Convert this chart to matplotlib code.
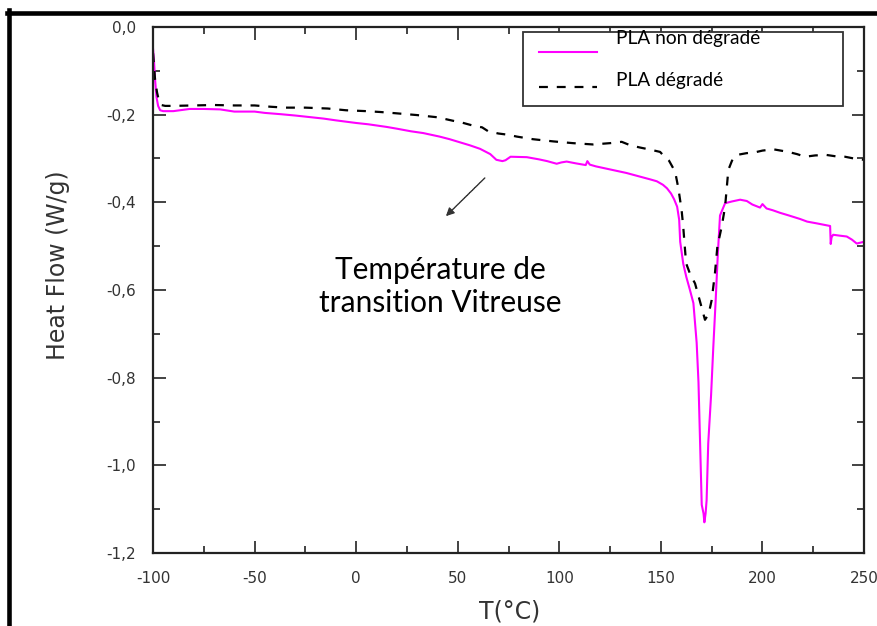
import matplotlib
matplotlib.use("Agg")
import matplotlib.pyplot as plt
from matplotlib.lines import Line2D
from matplotlib.patches import Rectangle
from matplotlib.ticker import FuncFormatter, MultipleLocator

plt.rcParams["axes.unicode_minus"] = False

# PLA non dégradé (magenta, solid)
pink_T = [-100, -99.5, -99, -98.3, -97.5, -96.5, -95, -90, -82, -75, -67, -60,
          -50, -45, -37, -30, -26, -20, -16, -10, 0, 6, 15, 20, 27, 33, 38, 41,
          46, 51, 56, 61, 66, 69, 72, 73.5, 76, 84, 90, 94, 98.7, 101, 103.6,
          108, 113, 113.8, 115, 118, 123, 128, 133, 137, 141, 145, 148, 151,
          153, 155, 156.5, 158, 159, 159.5, 161, 162.5, 164.3, 166, 167.6,
          168.5, 169.3, 170.1, 171, 171.4, 172, 172.5, 173.3, 174.7, 175.8,
          177, 178, 179.1, 181.6, 185, 189, 192.3, 195, 198.8, 200, 202, 205,
          208.7, 213, 218.5, 222, 226.7, 230, 233.3, 233.6, 234, 234.8, 238,
          241.5, 244, 246.4, 250]
pink_hf = [-0.05, -0.08, -0.12, -0.16, -0.18, -0.19, -0.192, -0.192, -0.187,
           -0.187, -0.188, -0.193, -0.193, -0.196, -0.199, -0.202, -0.204,
           -0.207, -0.209, -0.213, -0.219, -0.222, -0.228, -0.232, -0.238,
           -0.242, -0.247, -0.25, -0.256, -0.263, -0.27, -0.278, -0.29,
           -0.303, -0.306, -0.304, -0.296, -0.297, -0.302, -0.306, -0.312,
           -0.309, -0.307, -0.311, -0.315, -0.306, -0.314, -0.318, -0.323,
           -0.328, -0.333, -0.338, -0.343, -0.348, -0.352, -0.36, -0.368,
           -0.38, -0.393, -0.41, -0.44, -0.49, -0.54, -0.57, -0.60, -0.63,
           -0.72, -0.81, -0.95, -1.09, -1.11, -1.13, -1.11, -1.08, -0.95,
           -0.84, -0.73, -0.62, -0.52, -0.43, -0.402, -0.398, -0.394, -0.397,
           -0.405, -0.412, -0.404, -0.414, -0.418, -0.424, -0.43, -0.438,
           -0.444, -0.448, -0.451, -0.454, -0.495, -0.48, -0.474, -0.476,
           -0.478, -0.485, -0.494, -0.49]

# PLA dégradé (black, dashed)
dash_T = [-100, -99.5, -99, -98, -97, -96, -94, -90, -80, -70, -60, -50, -42,
          -35, -25, -14, -5, 5, 12, 20, 30, 40, 47.7, 52, 57.5, 62, 65, 70, 75,
          79, 87, 97, 106.7, 116.6, 125, 130.7, 135, 139.7, 145, 149.6, 151,
          154, 157, 158.6, 160.2, 161, 162.4, 164.5, 166.8, 169.3, 171.7,
          173.5, 175, 176.6, 177.8, 179.9, 181.6, 183.2, 185, 187.3, 192,
          197.2, 200, 205.3, 212.7, 217, 221, 226, 231.6, 236, 240.6, 245, 250]
dash_hf = [-0.06, -0.09, -0.12, -0.15, -0.17, -0.178, -0.18, -0.18, -0.179,
           -0.178, -0.179, -0.179, -0.182, -0.184, -0.184, -0.186, -0.19,
           -0.192, -0.194, -0.197, -0.201, -0.206, -0.214, -0.218, -0.225,
           -0.229, -0.238, -0.243, -0.246, -0.25, -0.256, -0.261, -0.265,
           -0.268, -0.265, -0.262, -0.27, -0.275, -0.28, -0.285, -0.292,
           -0.305, -0.33, -0.368, -0.418, -0.456, -0.539, -0.565, -0.585,
           -0.627, -0.668, -0.655, -0.623, -0.562, -0.501, -0.456, -0.41,
           -0.326, -0.305, -0.292, -0.288, -0.285, -0.282, -0.279, -0.285,
           -0.29, -0.296, -0.293, -0.292, -0.295, -0.296, -0.3, -0.303]

labels = ["PLA non dégradé", "PLA dégradé"]
note = "Température de\ntransition Vitreuse"
arrow_from = (64.3, -0.34)
arrow_to = (43.2, -0.436)

fig = plt.figure(figsize=(8.78, 6.26), dpi=100)
ax = fig.add_axes([0.1743, 0.1166, 0.8098, 0.8403])

ax.plot(pink_T, pink_hf, color="#ff00ff", lw=1.5)
ax.plot(dash_T, dash_hf, color="black", lw=1.6, dashes=(4, 4))

ax.set_xlim(-100, 250)
ax.set_ylim(-1.2, 0.0)
ax.xaxis.set_major_locator(MultipleLocator(50))
ax.xaxis.set_minor_locator(MultipleLocator(25))
ax.yaxis.set_major_locator(MultipleLocator(0.2))
ax.yaxis.set_minor_locator(MultipleLocator(0.1))
ax.yaxis.set_major_formatter(FuncFormatter(lambda v, p: f"{v:.1f}".replace(".", ",")))
ax.tick_params(which="both", direction="in", top=True, right=True,
               color="#222222", width=1.2, labelcolor="#333333")
ax.tick_params(which="major", length=9, labelsize=11)
ax.tick_params(which="minor", length=5)
ax.tick_params(axis="x", pad=13)
ax.tick_params(axis="y", pad=12)
for s in ax.spines.values():
    s.set_linewidth(1.6)
    s.set_color("#222222")

fig.text(58 / 878, 1 - 265 / 626, "Heat Flow (W/g)", rotation=90,
         ha="center", va="center", fontsize=17, color="#333333")
fig.text(510 / 878, 1 - 611 / 626, "T(°C)", ha="center", va="center",
         fontsize=17, color="#333333")

ax.annotate("", xy=arrow_to, xytext=arrow_from,
            arrowprops=dict(arrowstyle="-|>", color="#333333", lw=1.0,
                            mutation_scale=12, linestyle=(0, (2, 0.6))))
ax.text(0.404, 0.507, note, transform=ax.transAxes, ha="center", va="center",
        fontsize=21.5, family="Lato", linespacing=1.2)

# legend box drawn by hand to keep the original layout
ax.add_patch(Rectangle((0.52, 0.85), 0.45, 0.141, transform=ax.transAxes,
                       fill=True, facecolor="white", edgecolor="#333333",
                       lw=1.3, zorder=5))
ax.add_line(Line2D([0.543, 0.624], [0.9525, 0.9525], transform=ax.transAxes,
                   color="#ff00ff", lw=1.5, zorder=6))
ax.add_line(Line2D([0.543, 0.624], [0.886, 0.886], transform=ax.transAxes,
                   color="black", lw=1.6, dashes=(4, 4), zorder=6))
ax.text(0.651, 0.979, labels[0], transform=ax.transAxes, ha="left",
        va="center", fontsize=13.8, family="Lato", zorder=6)
ax.text(0.651, 0.899, labels[1], transform=ax.transAxes, ha="left",
        va="center", fontsize=13.8, family="Lato", zorder=6)

# outer frame (top and left edges)
fig.add_artist(Line2D([7 / 878, 1], [1 - 12.5 / 626, 1 - 12.5 / 626],
                      transform=fig.transFigure, color="black", lw=3.3))
fig.add_artist(Line2D([9.5 / 878, 9.5 / 878], [1 - 10 / 626, 0],
                      transform=fig.transFigure, color="black", lw=3.3))

fig.savefig("out.png", dpi=100)
